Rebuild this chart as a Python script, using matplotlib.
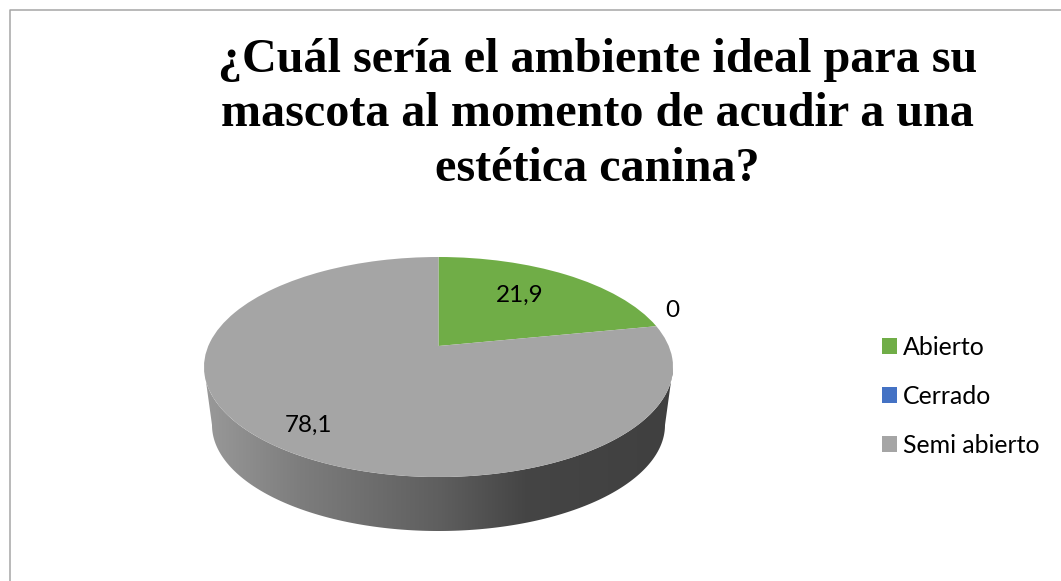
import numpy as np
import matplotlib
matplotlib.use('Agg')
import matplotlib.pyplot as plt
from matplotlib.patches import Polygon
from matplotlib.transforms import Transform

# Data
categories = ['Abierto', 'Cerrado', 'Semi abierto']
values = [21.9, 0, 78.1]
colors = ['#70AD47', '#4472C4', '#A5A5A5']
title = '¿Cuál sería el ambiente ideal para su\nmascota al momento de acudir a una\nestética canina?'

# Shading of the pie side, left to right (pixel x, grey level)
side_x = [205, 300, 440, 525, 673]
side_grey = [0.60, 0.49, 0.37, 0.27, 0.25]

# Pie geometry in pixels
apex_x, apex_y = 438.5, 346
scale_x, scale_y, tilt = 230.2, 106, 0.191


class PieTilt(Transform):
    # Perspective view of the flat pie, unit circle -> image pixels
    input_dims = 2
    output_dims = 2

    def transform_non_affine(self, xy):
        xy = np.asarray(xy)
        d = 1 + tilt * xy[:, 1]
        return np.column_stack((apex_x + scale_x * xy[:, 0] / d,
                                apex_y - scale_y * xy[:, 1] / d))


fig = plt.figure(figsize=(10.61, 5.81), dpi=100)
ax = fig.add_axes([0, 0, 1, 1])

wedges, _ = ax.pie(values, colors=colors, startangle=90, counterclock=False,
                   wedgeprops={'linewidth': 0})
for w in wedges:
    w.set_transform(PieTilt() + ax.transData)

# Axes in image pixels from here on
ax.set_aspect('auto')
ax.set_xlim(0, 1061)
ax.set_ylim(581, 0)
ax.axis('off')

# Side of the pie
t = np.radians(np.linspace(180, 0, 200))
rim_top = np.column_stack((438.5 + 234.5 * np.cos(t), 367 + 110 * np.sin(t)))
rim_bottom = np.column_stack((438.5 + 226.5 * np.cos(t), 425 + 106 * np.sin(t)))
side = Polygon(np.vstack((rim_top, rim_bottom[::-1])), closed=True,
               facecolor='none', edgecolor='none')
ax.add_patch(side)
xs = np.arange(205, 674)
grey = np.interp(xs, side_x, side_grey)
im = ax.imshow(np.dstack((grey, grey, grey)),
               extent=[205, 674, 535, 360], aspect='auto', zorder=0)
im.set_clip_path(side)
ax.set_xlim(0, 1061)
ax.set_ylim(581, 0)

# Value labels
label_pos = [(520, 295), (672, 310.5), (308, 425)]
for v, (x, y) in zip(values, label_pos):
    ax.text(x, y, str(v).replace('.', ','), ha='center', va='center',
            fontsize=17.5, family='Lato', color='black')

ax.legend(wedges, categories, loc='upper left', bbox_to_anchor=(882, 336),
          bbox_transform=ax.transData, frameon=False, borderpad=0, borderaxespad=0,
          handlelength=0.6, handleheight=0.6, handletextpad=0.24, labelspacing=1.04,
          prop={'family': 'Lato', 'size': 17.9})

fig.text(597.5 / 1061, 1 - 114.5 / 581, title, ha='center', va='center', fontsize=34.7,
         family='Liberation Serif', fontweight='bold', linespacing=1.3)

# Frame of the picture, left and top only
ax.plot([10, 10, 1061], [581, 10, 10], color='#A6A6A6', linewidth=1.1, clip_on=False)

fig.savefig('out.png', dpi=100)
